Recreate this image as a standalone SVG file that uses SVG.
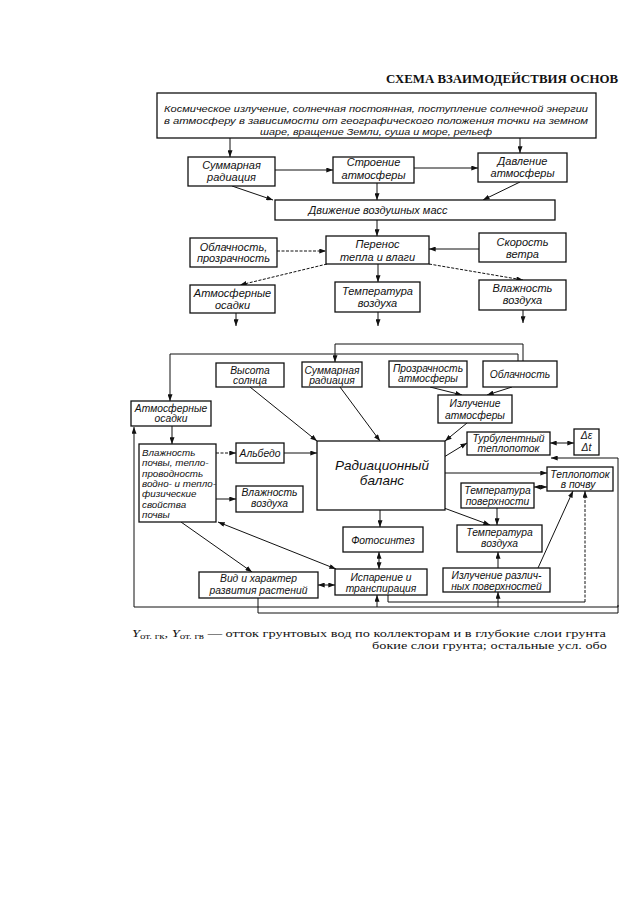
<svg xmlns="http://www.w3.org/2000/svg" width="635" height="900" viewBox="0 0 635 900">
<style>
.bx{fill:#fff;stroke:#111;stroke-width:1.3}
.c{fill:none;stroke:#111;stroke-width:1}
.d{stroke-dasharray:3 1.5}
text{font-family:"Liberation Sans",Arial,sans-serif;font-style:italic;fill:#111}
.t{font-size:11px;text-anchor:middle}
.s{font-size:10.3px;text-anchor:middle}
.l{font-size:9.8px}
.b{font-size:13.5px;text-anchor:middle}
.ttl{font-family:"Liberation Serif","Times New Roman",serif;font-style:normal;font-weight:bold;font-size:13px}
.fn{font-family:"Liberation Serif","Times New Roman",serif;font-style:normal;font-size:10.5px}
</style>
<defs>
<marker id="a" viewBox="0 0 8 6" refX="8" refY="3" markerWidth="7" markerHeight="5" orient="auto-start-reverse" markerUnits="userSpaceOnUse"><path d="M0,0 L8,3 L0,6 z" fill="#111"/></marker>
</defs>
<rect width="635" height="900" fill="#fff"/>
<text class="ttl" x="386" y="83" textLength="232" lengthAdjust="spacingAndGlyphs">СХЕМА ВЗАИМОДЕЙСТВИЯ ОСНОВ</text>

<g id="connectors">
<path class="c" marker-end="url(#a)" d="M230,138 V157"/>
<path class="c" marker-end="url(#a)" d="M520,138 V153"/>
<path class="c" marker-end="url(#a)" d="M275,170 H333"/>
<path class="c" marker-end="url(#a)" d="M414,168 H478"/>
<path class="c" marker-end="url(#a)" d="M377,183 V200"/>
<path class="c" marker-end="url(#a)" d="M232,186 L273,200"/>
<path class="c" marker-end="url(#a)" d="M520,182 L483,200"/>
<path class="c" marker-end="url(#a)" d="M377,220 V236"/>
<path class="c d" marker-end="url(#a)" d="M277,251 H326"/>
<path class="c" marker-end="url(#a)" d="M479,249 H429"/>
<path class="c d" marker-end="url(#a)" d="M327,264 L240,285"/>
<path class="c" marker-end="url(#a)" d="M378,264 V282"/>
<path class="c d" marker-end="url(#a)" d="M429,264 L523,280"/>
<path class="c" marker-end="url(#a)" d="M236,313 V326"/>
<path class="c" marker-end="url(#a)" d="M378,312 V326"/>
<path class="c" marker-end="url(#a)" d="M523,310 V323"/>

<path class="c" marker-end="url(#a)" d="M523,361 V344 H335 V362"/>
<path class="c" marker-end="url(#a)" d="M518,361 V354 H170 V401"/>
<path class="c" marker-end="url(#a)" d="M430,387 L462,395"/>
<path class="c" marker-end="url(#a)" d="M512,387 L487,395"/>
<path class="c" marker-end="url(#a)" d="M250,387 L317,441"/>
<path class="c" marker-end="url(#a)" d="M340,387 L380,441"/>
<path class="c" marker-end="url(#a)" d="M467,423 L445,441"/>
<path class="c" marker-end="url(#a)" d="M172,426 V444"/>
<path class="c d" marker-end="url(#a)" d="M216,453 H236"/>
<path class="c" marker-end="url(#a)" d="M284,453 H317"/>
<path class="c" marker-end="url(#a)" d="M216,499 H236"/>
<path class="c" marker-end="url(#a)" d="M444,457 L467,443"/>
<path class="c" marker-start="url(#a)" marker-end="url(#a)" d="M550,443 H574"/>
<path class="c" marker-end="url(#a)" d="M445,473 H547"/>
<path class="c" marker-start="url(#a)" marker-end="url(#a)" d="M534,487 H547"/>
<path class="c" marker-end="url(#a)" d="M497,508 V525"/>
<path class="c" marker-end="url(#a)" d="M444,508 L490,525"/>
<path class="c" marker-end="url(#a)" d="M380,510 V527"/>
<path class="c" marker-start="url(#a)" marker-end="url(#a)" d="M379,552 V569"/>
<path class="c" marker-start="url(#a)" marker-end="url(#a)" d="M318,585 H335"/>
<path class="c" marker-end="url(#a)" d="M181,522 L252,572"/>
<path class="c" marker-start="url(#a)" marker-end="url(#a)" d="M218,522 L336,569"/>
<path class="c" marker-end="url(#a)" d="M498,568 V552"/>
<path class="c" marker-end="url(#a)" d="M538,568 L573,491"/>
<path class="c" d="M388,595 V602 H585"/>
<path class="c d" marker-end="url(#a)" d="M585,602 V491"/>
<path class="c" marker-start="url(#a)" marker-end="url(#a)" d="M134,427 V607 H618 V458 H551"/>
<path class="c" d="M258,598 V613 H618 V605"/>
<path class="c" marker-end="url(#a)" d="M377,607 V595"/>
<path class="c" marker-end="url(#a)" d="M498,607 V592"/>
</g>

<g id="n-top"><rect class="bx" x="157" y="93" width="439" height="45"/>
<text class="l" x="376" y="111.5" text-anchor="middle" textLength="424" lengthAdjust="spacingAndGlyphs">Космическое излучение, солнечная постоянная, поступление солнечной энергии</text>
<text class="l" x="376" y="123.5" text-anchor="middle" textLength="424" lengthAdjust="spacingAndGlyphs">в атмосферу в зависимости от географического положения точки на земном</text>
<text class="l" x="376" y="135" text-anchor="middle" textLength="232" lengthAdjust="spacingAndGlyphs">шаре, вращение Земли, суша и море, рельеф</text></g>

<g id="n-sum1"><rect class="bx" x="188" y="157" width="87" height="29"/><text class="t" x="231.5" y="168.5">Суммарная</text><text class="t" x="231.5" y="180.5">радиация</text></g>
<g id="n-str"><rect class="bx" x="333" y="157" width="81" height="26"/><text class="t" x="373.5" y="165.5">Строение</text><text class="t" x="373.5" y="178.5">атмосферы</text></g>
<g id="n-dav"><rect class="bx" x="478" y="153" width="89" height="29"/><text class="t" x="522.5" y="165">Давление</text><text class="t" x="522.5" y="177">атмосферы</text></g>
<g id="n-dvi"><rect class="bx" x="275" y="200" width="280" height="20"/><text class="t" x="378" y="213.5">Движение воздушных масс</text></g>
<g id="n-obl1"><rect class="bx" x="190" y="238" width="87" height="29"/><text class="t" x="233.5" y="250.5">Облачность,</text><text class="t" x="233.5" y="261.5">прозрачность</text></g>
<g id="n-per"><rect class="bx" x="326" y="236" width="103" height="28"/><text class="t" x="377.5" y="247.5">Перенос</text><text class="t" x="377.5" y="260.5">тепла и влаги</text></g>
<g id="n-sko"><rect class="bx" x="479" y="233" width="87" height="29"/><text class="t" x="522.5" y="245.5">Скорость</text><text class="t" x="522.5" y="257.5">ветра</text></g>
<g id="n-atm1"><rect class="bx" x="190" y="285" width="85" height="28"/><text class="t" x="232.5" y="296.5">Атмосферные</text><text class="t" x="232.5" y="308.5">осадки</text></g>
<g id="n-tem1"><rect class="bx" x="335" y="282" width="85" height="30"/><text class="t" x="377.5" y="294.5">Температура</text><text class="t" x="377.5" y="306.5">воздуха</text></g>
<g id="n-vla1"><rect class="bx" x="479" y="280" width="87" height="30"/><text class="t" x="522.5" y="291.5">Влажность</text><text class="t" x="522.5" y="303.5">воздуха</text></g>

<g id="n-vys"><rect class="bx" x="216" y="363" width="68" height="24"/><text class="s" x="250" y="373.5">Высота</text><text class="s" x="250" y="383.5">солнца</text></g>
<g id="n-sum2"><rect class="bx" x="302" y="362" width="60" height="25"/><text class="s" x="332" y="373.5">Суммарная</text><text class="s" x="332" y="383.5">радиация</text></g>
<g id="n-pro"><rect class="bx" x="389" y="361" width="78" height="26"/><text class="s" x="428" y="371.5">Прозрачность</text><text class="s" x="428" y="381.5">атмосферы</text></g>
<g id="n-obl2"><rect class="bx" x="483" y="361" width="74" height="26"/><text class="s" x="520" y="377.5">Облачность</text></g>
<g id="n-izl"><rect class="bx" x="438" y="395" width="74" height="28"/><text class="s" x="475" y="406.5">Излучение</text><text class="s" x="475" y="418.5">атмосферы</text></g>
<g id="n-atm2"><rect class="bx" x="131" y="401" width="80" height="25"/><text class="s" x="171" y="411.5">Атмосферные</text><text class="s" x="171" y="421.5">осадки</text></g>
<g id="n-vp"><rect class="bx" x="139" y="444" width="77" height="78"/>
<text class="l" x="142" y="455.5">Влажность</text><text class="l" x="142" y="466">почвы, тепло-</text><text class="l" x="142" y="476.5">проводность</text><text class="l" x="142" y="487">водно- и тепло-</text><text class="l" x="142" y="497">физические</text><text class="l" x="142" y="507.5">свойства</text><text class="l" x="142" y="518">почвы</text></g>
<g id="n-alb"><rect class="bx" x="236" y="443" width="48" height="20"/><text class="s" x="260" y="456.5">Альбедо</text></g>
<g id="n-vla2"><rect class="bx" x="236" y="486" width="67" height="26"/><text class="s" x="269.5" y="495.5">Влажность</text><text class="s" x="269.5" y="506.5">воздуха</text></g>
<g id="n-rb"><rect class="bx" x="317" y="441" width="128" height="69"/><text class="b" x="382" y="469.5">Радиационный</text><text class="b" x="382" y="484.5">баланс</text></g>
<g id="n-tur"><rect class="bx" x="467" y="432" width="83" height="23"/><text class="s" x="508.5" y="441.5">Турбулентный</text><text class="s" x="508.5" y="451.5">теплопоток</text></g>
<g id="n-del"><rect class="bx" x="574" y="429" width="25" height="26"/><text class="s" x="586.5" y="439">Δε</text><text class="s" x="586.5" y="451">Δt</text></g>
<g id="n-tep"><rect class="bx" x="547" y="467" width="66" height="24"/><text class="s" x="580" y="477.5">Теплопоток</text><text class="s" x="578" y="487.5">в почву</text></g>
<g id="n-tpo"><rect class="bx" x="461" y="483" width="73" height="25"/><text class="s" x="497.5" y="493.5">Температура</text><text class="s" x="497.5" y="504.5">поверхности</text></g>
<g id="n-tvo"><rect class="bx" x="457" y="525" width="85" height="27"/><text class="s" x="499.5" y="535.5">Температура</text><text class="s" x="499.5" y="546.5">воздуха</text></g>
<g id="n-fot"><rect class="bx" x="343" y="527" width="80" height="25"/><text class="s" x="383" y="543.5">Фотосинтез</text></g>
<g id="n-isp"><rect class="bx" x="335" y="569" width="92" height="26"/><text class="s" x="381" y="580.5">Испарение и</text><text class="s" x="381" y="591.5">транспирация</text></g>
<g id="n-vid"><rect class="bx" x="199" y="572" width="119" height="26"/><text class="s" x="258.5" y="582">Вид и характер</text><text class="s" x="258.5" y="594">развития растений</text></g>
<g id="n-izr"><rect class="bx" x="443" y="568" width="107" height="24"/><text class="s" x="496.5" y="578.5">Излучение различ-</text><text class="s" x="496.5" y="589.5">ных поверхностей</text></g>

<text class="fn" x="132" y="637" textLength="474" lengthAdjust="spacingAndGlyphs"><tspan font-style="italic">Y</tspan><tspan font-size="8" dy="1.5">от. гк</tspan><tspan dy="-1.5">, </tspan><tspan font-style="italic">Y</tspan><tspan font-size="8" dy="1.5">от. гв</tspan><tspan dy="-1.5"> — отток грунтовых вод по коллекторам и в глубокие слои грунта</tspan></text>
<text class="fn" x="372" y="648.5" textLength="235" lengthAdjust="spacingAndGlyphs">бокие  слои грунта; остальные усл. обо</text>
</svg>
